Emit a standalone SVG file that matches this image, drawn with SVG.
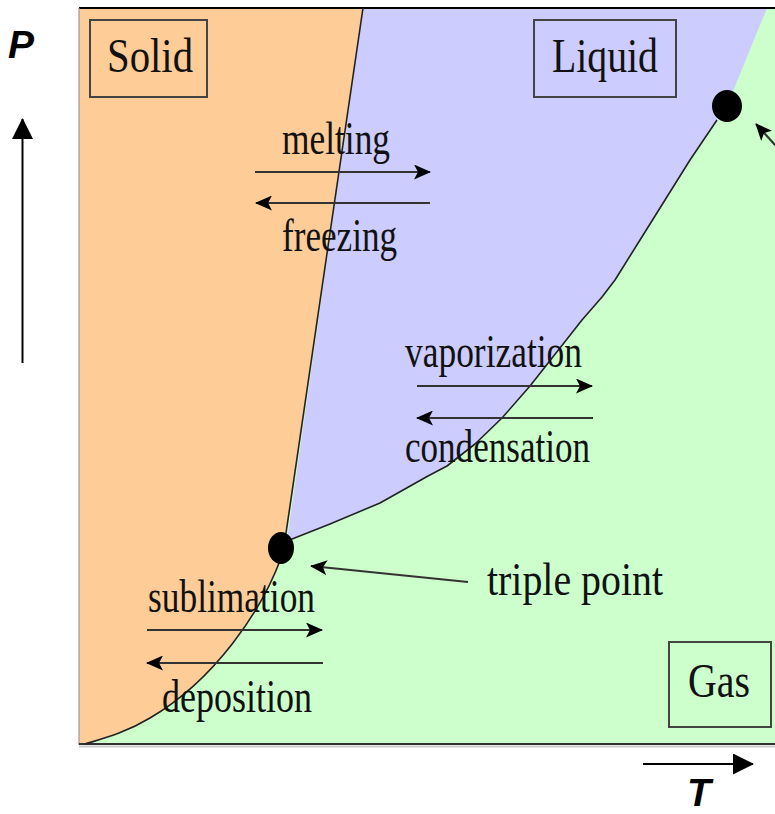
<svg xmlns="http://www.w3.org/2000/svg" width="775" height="814" viewBox="0 0 775 814">
<style>
.lbl{font-family:"Liberation Serif","Times New Roman",serif;fill:#111;}
.proc{font-size:47px;}
.phase{font-size:49px;}
.box{fill:none;stroke:#444;stroke-width:2;}
.bnd{fill:none;stroke:#222;stroke-width:1.6;stroke-linejoin:round;}
.arr{stroke:#333;stroke-width:2.2;fill:none;}
.axis{font-family:"Liberation Sans",Arial,sans-serif;font-weight:bold;font-style:italic;font-size:39px;fill:#000;}
</style>
<defs>
<marker id="ah" viewBox="0 0 17 15" refX="16" refY="7.5" markerWidth="17" markerHeight="15" markerUnits="userSpaceOnUse" orient="auto">
<path d="M0,0 L17,7.5 L0,15 L4,7.5 z" fill="#000"/>
</marker>
<marker id="big" viewBox="0 0 21 21" refX="20" refY="10.5" markerWidth="21" markerHeight="21" markerUnits="userSpaceOnUse" orient="auto">
<path d="M0,0 L21,10.5 L0,21 z" fill="#000"/>
</marker>
</defs>
<rect width="775" height="814" fill="#fff"/>
<g id="regions">
<rect x="79" y="8" width="696" height="736" fill="#CCFFCC"/>
<path id="liquid-region" d="M363,8 L767,8 L727,106 L717,120 L690,160 L665,200 L640,240 L615,280 L602,297 L582,320 L556,353 L530,386 L502,418 L475,444 L447,466 L428,476 L380,503 L330,524 L287,541 Z" fill="#CCCCFF"/>
<path id="solid-region" d="M79,8 L363,8 L285,540 L281,558 C262,610 215,680 150,718 C125,733 105,738 85,744 L79,744 Z" fill="#FECC96"/>
</g>
<g id="frame">
<line x1="79" y1="8" x2="775" y2="8" stroke="#000" stroke-width="2"/>
<line x1="79" y1="8" x2="79" y2="745" stroke="#999" stroke-width="1.2"/>
<line x1="79" y1="746.5" x2="775" y2="746.5" stroke="#ccc" stroke-width="2"/>
<line x1="79" y1="744" x2="775" y2="744" stroke="#333" stroke-width="2"/>
</g>
<g id="boundaries">
<path class="bnd" d="M363,8 L285,540"/>
<path class="bnd" d="M281,558 C262,610 215,680 150,718 C125,733 105,738 85,744"/>
<path class="bnd" d="M287,541 L330,524 L380,503 L428,476 L447,466 L475,444 L502,418 L530,386 L556,353 L582,320 L602,297 L615,280 L640,240 L665,200 L690,160 L717,120"/>
</g>
<g id="solid">
<rect class="box" x="90" y="20" width="117" height="77"/>
<text class="lbl phase" x="107" y="72" textLength="86" lengthAdjust="spacingAndGlyphs">Solid</text>
</g>
<g id="liquid">
<rect class="box" x="534" y="20" width="142" height="77"/>
<text class="lbl phase" x="552" y="72" textLength="106" lengthAdjust="spacingAndGlyphs">Liquid</text>
</g>
<g id="gas">
<rect class="box" x="669" y="642" width="102" height="85"/>
<text class="lbl phase" x="688" y="697" textLength="62" lengthAdjust="spacingAndGlyphs">Gas</text>
</g>
<g id="triple-point">
<ellipse cx="281" cy="548" rx="13" ry="16" fill="#000"/>
<text class="lbl proc" x="487" y="595" textLength="176" lengthAdjust="spacingAndGlyphs">triple point</text>
</g>
<g id="critical-point">
<ellipse cx="727" cy="106" rx="15" ry="16" fill="#000"/>
</g>
<g id="melting"><text class="lbl proc" x="282" y="154" textLength="108" lengthAdjust="spacingAndGlyphs">melting</text></g>
<g id="freezing"><text class="lbl proc" x="282" y="251" textLength="115" lengthAdjust="spacingAndGlyphs">freezing</text></g>
<g id="vaporization"><text class="lbl proc" x="405" y="367" textLength="177" lengthAdjust="spacingAndGlyphs">vaporization</text></g>
<g id="condensation"><text class="lbl proc" x="405" y="462" textLength="185" lengthAdjust="spacingAndGlyphs">condensation</text></g>
<g id="sublimation"><text class="lbl proc" x="148" y="612" textLength="167" lengthAdjust="spacingAndGlyphs">sublimation</text></g>
<g id="deposition"><text class="lbl proc" x="162" y="712" textLength="150" lengthAdjust="spacingAndGlyphs">deposition</text></g>
<g id="axes">
<text class="axis" x="8" y="58">P</text>
<text class="axis" x="687" y="806" font-size="38">T</text>
</g>
<g id="connectors">
<line class="arr" x1="255" y1="172" x2="430" y2="172" marker-end="url(#ah)"/>
<line class="arr" x1="430" y1="203" x2="256" y2="203" marker-end="url(#ah)"/>
<line class="arr" x1="417" y1="386" x2="592" y2="386" marker-end="url(#ah)"/>
<line class="arr" x1="593" y1="418" x2="417" y2="418" marker-end="url(#ah)"/>
<line class="arr" x1="147" y1="630" x2="322" y2="630" marker-end="url(#ah)"/>
<line class="arr" x1="323" y1="663" x2="147" y2="663" marker-end="url(#ah)"/>
<line class="arr" x1="468" y1="582" x2="311" y2="566" stroke-width="1.6" marker-end="url(#ah)"/>
<line class="arr" x1="776" y1="146" x2="756" y2="124" stroke-width="1.8" marker-end="url(#ah)"/>
<line x1="22.5" y1="363" x2="22.5" y2="119" stroke="#000" stroke-width="2" marker-end="url(#big)"/>
<line x1="643" y1="764" x2="753" y2="764" stroke="#000" stroke-width="2" marker-end="url(#big)"/>
</g>
</svg>
